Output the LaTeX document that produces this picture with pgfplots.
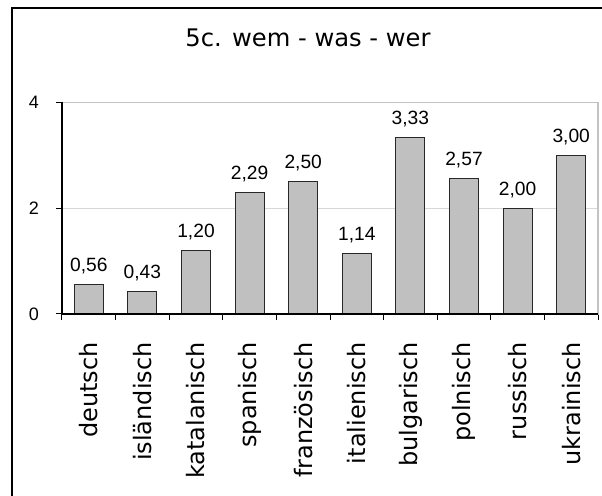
\documentclass[border=0pt]{standalone}
\usepackage{pgfplots}
\pgfplotsset{compat=1.18}
\usepackage{fontspec}
\setmainfont{DejaVu Sans}
\newfontfamily\arial{Liberation Sans}
\definecolor{barfill}{RGB}{192,192,192}
\definecolor{barline}{RGB}{40,40,40}
\definecolor{gridc}{RGB}{215,215,215}
\definecolor{framec}{RGB}{195,195,195}
\begin{document}
\begin{tikzpicture}
\useasboundingbox (0,0) rectangle (301pt,248pt);
\draw[line width=0.65pt] (6pt,-20pt) rectangle (330pt,244pt);
\node[anchor=base, inner sep=0pt, font=\fontsize{12.1}{14}\selectfont] at (154pt,224.5pt) {5c. wem - was - wer};
\begin{axis}[
  at={(31pt,91pt)}, anchor=south west,
  scale only axis, width=268pt, height=105.75pt,
  ymin=0, ymax=4, xmin=-0.5, xmax=9.5,
  ytick={0,2,4}, xtick={0,...,9},
  xticklabels={deutsch,isländisch,katalanisch,spanisch,französisch,italienisch,bulgarisch,polnisch,russisch,ukrainisch},
  minor xtick={-0.5,0.5,...,9.5},
  tick align=outside, xtick pos=left, ytick pos=left,
  major x tick style={draw=none},
  major tick length=3pt, minor tick length=3pt,
  tick style={black, line width=0.5pt},
  ymajorgrids, grid style={gridc, line width=0.6pt},
  axis line style={framec, line width=0.6pt},
  xticklabel shift=11pt,
  xticklabel style={rotate=90, anchor=east, font=\fontsize{12}{14}\selectfont, inner sep=0pt},
  yticklabel style={font=\arial\fontsize{9}{11}\selectfont, xshift=-5pt},
  /pgf/number format/assume math mode=true,
  clip=false,
  ybar, bar width=0.54,
  nodes near coords={\pgfmathprintnumber[fixed,fixed zerofill,precision=2,use comma]{\pgfplotspointmeta}},
  nodes near coords style={font=\arial\fontsize{9.6}{11}\selectfont, anchor=base, inner sep=0pt, yshift=6.5pt, black},
]
\addplot[fill=barfill, draw=barline, line width=0.5pt] coordinates {
 (0,0.56) (1,0.43) (2,1.20) (3,2.29) (4,2.50) (5,1.14) (6,3.33) (7,2.57) (8,2.00) (9,3.00)};
\draw[black, line width=0.6pt] (rel axis cs:0,1) -- (rel axis cs:0,0) -- (rel axis cs:1,0);
\end{axis}
\end{tikzpicture}
\end{document}
